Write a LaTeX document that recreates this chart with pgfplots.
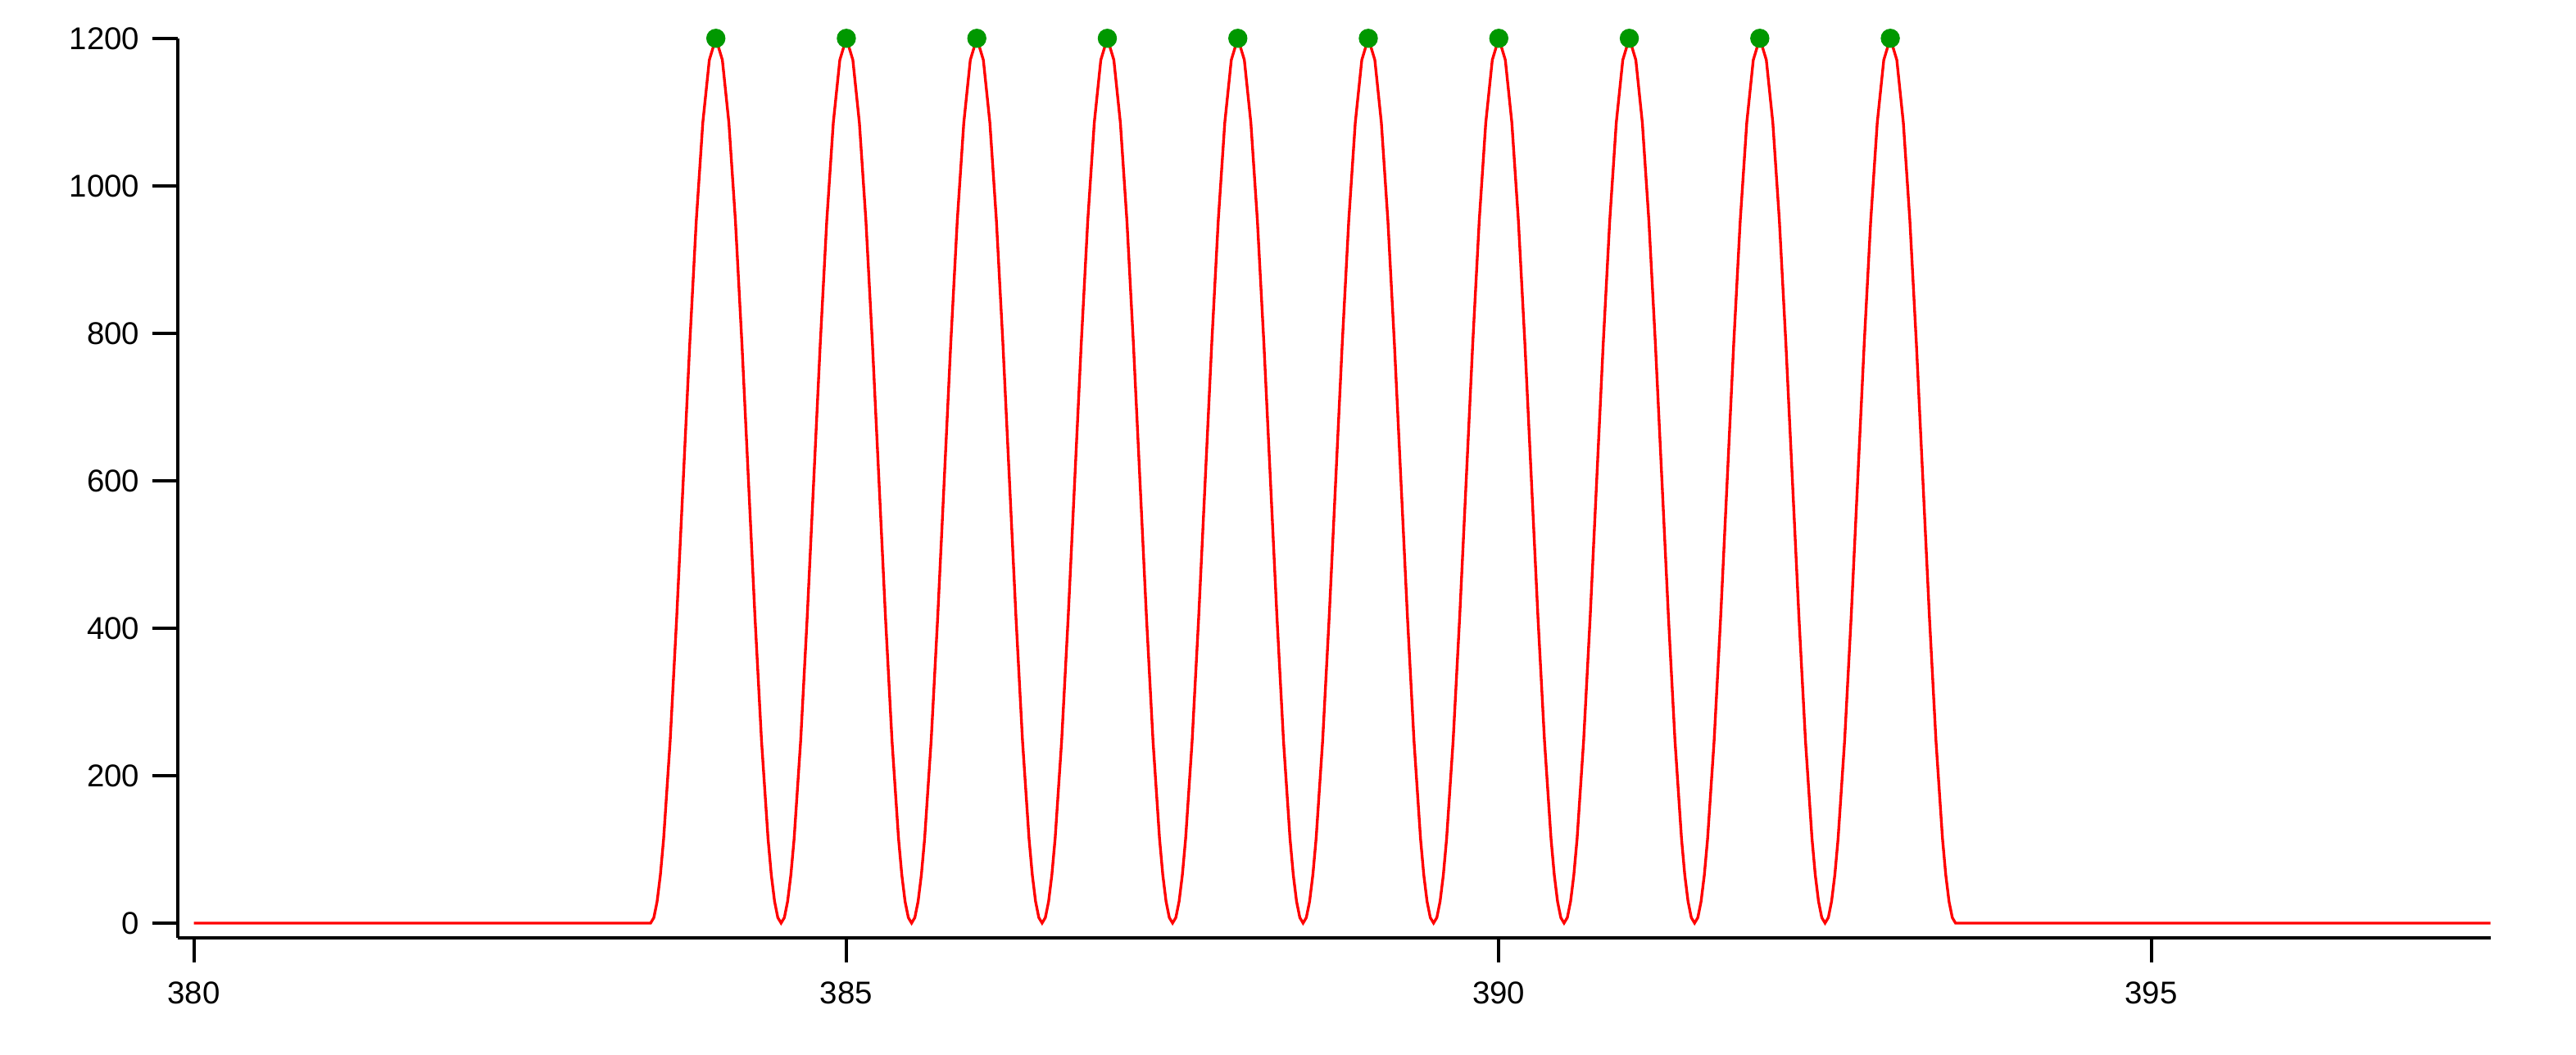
\documentclass[border=0pt]{standalone}
\usepackage{fontspec}
\setmainfont{Liberation Sans}
\usepackage{pgfplots}
\pgfplotsset{compat=1.18}
\definecolor{peakgreen}{RGB}{0,152,0}
\begin{document}
\fontsize{11.5pt}{13pt}\selectfont
\begin{tikzpicture}
\begin{axis}[name=ax, scale only axis, width=844.8pt, height=328.5pt,
  xmin=379.874, xmax=397.6, ymin=-19.6, ymax=1200,
  axis lines=left, axis line style={-, line width=1.2pt, black},
  xtick={380,385,390,395}, ytick={0,200,400,600,800,1000,1200},
  tick align=outside, major tick length=9pt,
  tick style={line width=1.2pt, black},
  /pgf/number format/assume math mode=true,
  /pgf/number format/1000 sep={},
  xticklabel style={yshift=-3.2pt},
  yticklabel style={xshift=-0.8pt},
  clip=false]
\addplot[red, line width=1pt] table[row sep=\\] {
x y\\
380.00 0\\
383.500 0\\
383.525 7.4\\ 383.55 29.4\\ 383.575 65.4\\ 383.60 114.6\\ 383.65 247.3\\ 383.70 414.6\\ 383.75 600\\ 383.80 785.4\\ 383.85 952.7\\ 383.90 1085.4\\ 383.95 1170.6\\
384.00 1200\\ 384.05 1170.6\\ 384.10 1085.4\\ 384.15 952.7\\ 384.20 785.4\\ 384.25 600\\ 384.30 414.6\\ 384.35 247.3\\ 384.40 114.6\\ 384.425 65.4\\ 384.45 29.4\\ 384.475 7.4\\
384.500 0\\
384.525 7.4\\ 384.55 29.4\\ 384.575 65.4\\ 384.60 114.6\\ 384.65 247.3\\ 384.70 414.6\\ 384.75 600\\ 384.80 785.4\\ 384.85 952.7\\ 384.90 1085.4\\ 384.95 1170.6\\
385.00 1200\\ 385.05 1170.6\\ 385.10 1085.4\\ 385.15 952.7\\ 385.20 785.4\\ 385.25 600\\ 385.30 414.6\\ 385.35 247.3\\ 385.40 114.6\\ 385.425 65.4\\ 385.45 29.4\\ 385.475 7.4\\
385.500 0\\
385.525 7.4\\ 385.55 29.4\\ 385.575 65.4\\ 385.60 114.6\\ 385.65 247.3\\ 385.70 414.6\\ 385.75 600\\ 385.80 785.4\\ 385.85 952.7\\ 385.90 1085.4\\ 385.95 1170.6\\
386.00 1200\\ 386.05 1170.6\\ 386.10 1085.4\\ 386.15 952.7\\ 386.20 785.4\\ 386.25 600\\ 386.30 414.6\\ 386.35 247.3\\ 386.40 114.6\\ 386.425 65.4\\ 386.45 29.4\\ 386.475 7.4\\
386.500 0\\
386.525 7.4\\ 386.55 29.4\\ 386.575 65.4\\ 386.60 114.6\\ 386.65 247.3\\ 386.70 414.6\\ 386.75 600\\ 386.80 785.4\\ 386.85 952.7\\ 386.90 1085.4\\ 386.95 1170.6\\
387.00 1200\\ 387.05 1170.6\\ 387.10 1085.4\\ 387.15 952.7\\ 387.20 785.4\\ 387.25 600\\ 387.30 414.6\\ 387.35 247.3\\ 387.40 114.6\\ 387.425 65.4\\ 387.45 29.4\\ 387.475 7.4\\
387.500 0\\
387.525 7.4\\ 387.55 29.4\\ 387.575 65.4\\ 387.60 114.6\\ 387.65 247.3\\ 387.70 414.6\\ 387.75 600\\ 387.80 785.4\\ 387.85 952.7\\ 387.90 1085.4\\ 387.95 1170.6\\
388.00 1200\\ 388.05 1170.6\\ 388.10 1085.4\\ 388.15 952.7\\ 388.20 785.4\\ 388.25 600\\ 388.30 414.6\\ 388.35 247.3\\ 388.40 114.6\\ 388.425 65.4\\ 388.45 29.4\\ 388.475 7.4\\
388.500 0\\
388.525 7.4\\ 388.55 29.4\\ 388.575 65.4\\ 388.60 114.6\\ 388.65 247.3\\ 388.70 414.6\\ 388.75 600\\ 388.80 785.4\\ 388.85 952.7\\ 388.90 1085.4\\ 388.95 1170.6\\
389.00 1200\\ 389.05 1170.6\\ 389.10 1085.4\\ 389.15 952.7\\ 389.20 785.4\\ 389.25 600\\ 389.30 414.6\\ 389.35 247.3\\ 389.40 114.6\\ 389.425 65.4\\ 389.45 29.4\\ 389.475 7.4\\
389.500 0\\
389.525 7.4\\ 389.55 29.4\\ 389.575 65.4\\ 389.60 114.6\\ 389.65 247.3\\ 389.70 414.6\\ 389.75 600\\ 389.80 785.4\\ 389.85 952.7\\ 389.90 1085.4\\ 389.95 1170.6\\
390.00 1200\\ 390.05 1170.6\\ 390.10 1085.4\\ 390.15 952.7\\ 390.20 785.4\\ 390.25 600\\ 390.30 414.6\\ 390.35 247.3\\ 390.40 114.6\\ 390.425 65.4\\ 390.45 29.4\\ 390.475 7.4\\
390.500 0\\
390.525 7.4\\ 390.55 29.4\\ 390.575 65.4\\ 390.60 114.6\\ 390.65 247.3\\ 390.70 414.6\\ 390.75 600\\ 390.80 785.4\\ 390.85 952.7\\ 390.90 1085.4\\ 390.95 1170.6\\
391.00 1200\\ 391.05 1170.6\\ 391.10 1085.4\\ 391.15 952.7\\ 391.20 785.4\\ 391.25 600\\ 391.30 414.6\\ 391.35 247.3\\ 391.40 114.6\\ 391.425 65.4\\ 391.45 29.4\\ 391.475 7.4\\
391.500 0\\
391.525 7.4\\ 391.55 29.4\\ 391.575 65.4\\ 391.60 114.6\\ 391.65 247.3\\ 391.70 414.6\\ 391.75 600\\ 391.80 785.4\\ 391.85 952.7\\ 391.90 1085.4\\ 391.95 1170.6\\
392.00 1200\\ 392.05 1170.6\\ 392.10 1085.4\\ 392.15 952.7\\ 392.20 785.4\\ 392.25 600\\ 392.30 414.6\\ 392.35 247.3\\ 392.40 114.6\\ 392.425 65.4\\ 392.45 29.4\\ 392.475 7.4\\
392.500 0\\
392.525 7.4\\ 392.55 29.4\\ 392.575 65.4\\ 392.60 114.6\\ 392.65 247.3\\ 392.70 414.6\\ 392.75 600\\ 392.80 785.4\\ 392.85 952.7\\ 392.90 1085.4\\ 392.95 1170.6\\
393.00 1200\\ 393.05 1170.6\\ 393.10 1085.4\\ 393.15 952.7\\ 393.20 785.4\\ 393.25 600\\ 393.30 414.6\\ 393.35 247.3\\ 393.40 114.6\\ 393.425 65.4\\ 393.45 29.4\\ 393.475 7.4\\
393.500 0\\
397.60 0\\
};
\addplot[only marks, mark=*, mark size=3.3pt, color=peakgreen, mark options={draw=peakgreen, fill=peakgreen}] coordinates {
(384,1200) (385,1200) (386,1200) (387,1200) (388,1200) (389,1200) (390,1200) (391,1200) (392,1200) (393,1200)
};
\end{axis}
\path ([xshift=-64.8pt,yshift=-42.7pt]ax.south west) rectangle ++(940.8pt,385.2pt);
\end{tikzpicture}
\end{document}
